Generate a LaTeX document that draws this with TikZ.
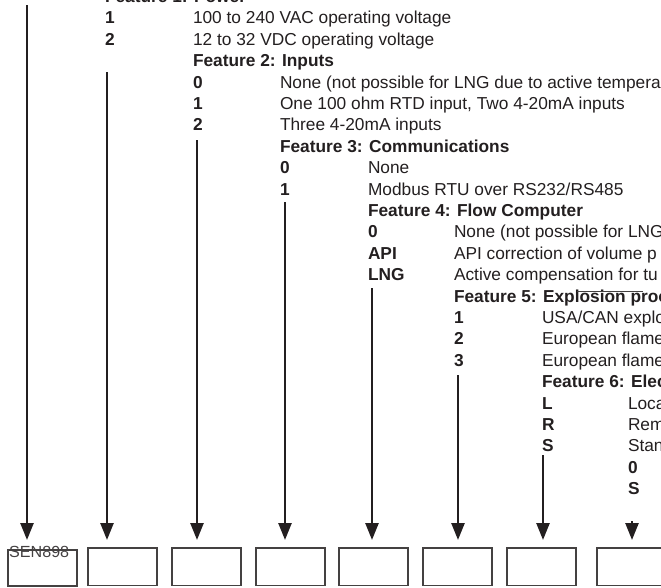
\documentclass[tikz,border=0pt]{standalone}
\usepackage{fontspec}
\setmainfont{Liberation Sans}
\usetikzlibrary{arrows.meta}
\definecolor{ink}{HTML}{231F20}
\begin{document}
\begin{tikzpicture}[x=1pt,y=-1pt,
  txt/.style={anchor=base west, inner sep=0pt, outer sep=0pt, text=ink, font=\fontsize{17.3}{20}\selectfont},
  codetxt/.style={txt, font=\fontsize{17.3}{20}\selectfont\bfseries},
  arr/.style={draw=ink, line width=2.5pt, -{Triangle[length=17pt,width=13pt]}},
  codebox/.style={draw=ink!85, line width=1.2pt, minimum width=69pt, minimum height=37.5pt, inner sep=0pt, outer sep=0pt, anchor=north west}]
\useasboundingbox (0,0) rectangle (661,587);
\clip (0,0) rectangle (661,587);
% Feature 1
\node[codetxt] (f1) at (105,2.5) {Feature 1: Power};
\node[codetxt] (f1c1) at (105,23.9) {1};
\node[txt] (f1d1) at (193,23.9) {100 to 240 VAC operating voltage};
\node[codetxt] (f1c2) at (105,45.3) {2};
\node[txt] (f1d2) at (193,45.3) {12 to 32 VDC operating voltage};
% Feature 2
\node[codetxt] (f2) at (193,66.7) {Feature 2: Inputs};
\node[codetxt] (f2c0) at (193,88.1) {0};
\node[txt] (f2d0) at (280,88.1) {None (not possible for LNG due to active tempera};
\node[codetxt] (f2c1) at (193,109.5) {1};
\node[txt] (f2d1) at (280,109.5) {One 100 ohm RTD input, Two 4-20mA inputs};
\node[codetxt] (f2c2) at (193,130.9) {2};
\node[txt] (f2d2) at (280,130.9) {Three 4-20mA inputs};
% Feature 3
\node[codetxt] (f3) at (280,152.3) {Feature 3: Communications};
\node[codetxt] (f3c0) at (280,173.7) {0};
\node[txt] (f3d0) at (368,173.7) {None};
\node[codetxt] (f3c1) at (280,195.1) {1};
\node[txt] (f3d1) at (368,195.1) {Modbus RTU over RS232/RS485};
% Feature 4
\node[codetxt] (f4) at (368,216.5) {Feature 4: Flow Computer};
\node[codetxt] (f4c0) at (368,237.9) {0};
\node[txt] (f4d0) at (454,237.9) {None (not possible for LNG};
\node[codetxt] (f4c1) at (368,259.3) {API};
\node[txt] (f4d1) at (454,259.3) {API correction of volume p};
\node[codetxt] (f4c2) at (368,280.7) {LNG};
\node[txt] (f4d2) at (454,280.7) {Active compensation for tu};
% Feature 5
\node[codetxt] (f5) at (454,302.1) {Feature 5: Explosion proof};
\draw[draw=ink!85, line width=1.2pt] (577,291.5) -- (643,291.5);
\node[codetxt] (f5c1) at (454,323.5) {1};
\node[txt] (f5d1) at (542,323.5) {USA/CAN explos};
\node[codetxt] (f5c2) at (454,344.9) {2};
\node[txt] (f5d2) at (542,344.9) {European flame};
\node[codetxt] (f5c3) at (454,366.3) {3};
\node[txt] (f5d3) at (542,366.3) {European flame};
% Feature 6
\node[codetxt] (f6) at (542,387.7) {Feature 6: Elect};
\node[codetxt] (f6c1) at (542,409.1) {L};
\node[txt] (f6d1) at (628,409.1) {Loca};
\node[codetxt] (f6c2) at (542,430.5) {R};
\node[txt] (f6d2) at (628,430.5) {Rem};
\node[codetxt] (f6c3) at (542,451.9) {S};
\node[txt] (f6d3) at (628,451.9) {Stan};
% Feature 7
\node[codetxt] (f7c0) at (628,473.3) {0};
\node[codetxt] (f7c1) at (628,494.7) {S};
% boxes
\node[codebox, minimum height=36pt] (b1) at (8,550) {};
\node[codebox] (b2) at (88,548) {};
\node[codebox] (b3) at (172,548) {};
\node[codebox] (b4) at (256,548) {};
\node[codebox] (b5) at (339,548) {};
\node[codebox] (b6) at (423,548) {};
\node[codebox] (b7) at (507,548) {};
\node[codebox] (b8) at (597,548) {};
\node[anchor=base west, inner sep=0pt, text=ink!85, font=\fontsize{16.1}{18}\selectfont] (sen) at (9,557) {SEN898};
% arrow starts
\coordinate (t1) at (27,5);
\coordinate (t2) at (107,72);
\coordinate (t3) at (197,140);
\coordinate (t4) at (285,202);
\coordinate (t5) at (372,288);
\coordinate (t6) at (458,375);
\coordinate (t7) at (543,455);
\coordinate (t8) at (632,521);
\draw[arr, shorten >=10pt] (t1) -- (t1 |- b1.north);
\draw[arr, shorten >=8pt] (t2) -- (t2 |- b2.north);
\draw[arr, shorten >=8pt] (t3) -- (t3 |- b3.north);
\draw[arr, shorten >=8pt] (t4) -- (t4 |- b4.north);
\draw[arr, shorten >=8pt] (t5) -- (t5 |- b5.north);
\draw[arr, shorten >=8pt] (t6) -- (t6 |- b6.north);
\draw[arr, shorten >=8pt] (t7) -- (t7 |- b7.north);
\draw[arr, shorten >=8pt] (t8) -- (t8 |- b8.north);
\end{tikzpicture}
\end{document}
